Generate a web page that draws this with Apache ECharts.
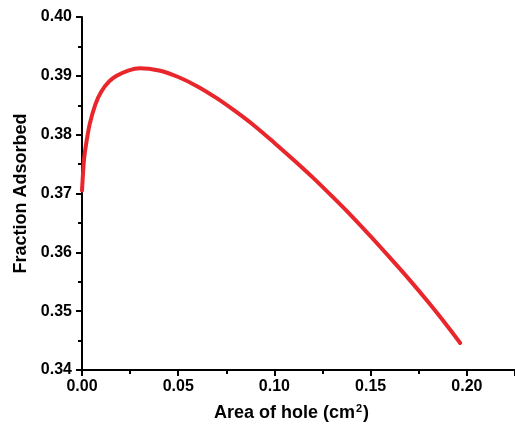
<!DOCTYPE html>
<html><head><meta charset="utf-8">
<script src="https://cdn.jsdelivr.net/npm/echarts@6/dist/echarts.min.js"></script>
<style>html,body{margin:0;padding:0;background:#fff}#c{width:515px;height:427px}</style>
</head><body><div id="c"></div>
<script>
const areaValues = [0, 0.001, 0.002, 0.004, 0.007, 0.010, 0.014, 0.018, 0.024, 0.030, 0.04, 0.05, 0.06, 0.07, 0.08, 0.09, 0.10, 0.11, 0.12, 0.13, 0.14, 0.15, 0.16, 0.17, 0.18, 0.19, 0.1965];
const fractionValues = [0.3705, 0.3756, 0.3781, 0.3818, 0.3852, 0.3873, 0.3890, 0.3900, 0.3909, 0.3913, 0.3909, 0.3898, 0.3882, 0.3862, 0.3839, 0.3814, 0.3786, 0.3757, 0.3727, 0.3695, 0.3662, 0.3627, 0.3591, 0.3554, 0.3515, 0.3474, 0.3446];
const xTicks = {min: 0, max: 0.225, interval: 0.05};
const yTicks = {min: 0.34, max: 0.40, interval: 0.01};

const chart = echarts.init(document.getElementById('c'));
const font = 'Liberation Sans, Arial, sans-serif';
const axisCommon = {
  axisLine: {show: true, lineStyle: {color: '#000', width: 2}},
  axisTick: {show: true, inside: false, length: 6, lineStyle: {color: '#000', width: 2}},
  minorTick: {show: true, splitNumber: 2, length: 4, lineStyle: {color: '#000', width: 2}},
  splitLine: {show: false},
  axisLabel: {color: '#000', fontFamily: font, fontWeight: 'bold', fontSize: 16, formatter: v => v.toFixed(2)}
};
chart.setOption({
  backgroundColor: '#fff',
  animation: false,
  grid: {left: 82, right: 0, top: 17, bottom: 57, containLabel: false},
  xAxis: Object.assign({}, axisCommon, {
    type: 'value', min: xTicks.min, max: xTicks.max, interval: xTicks.interval,
    axisLabel: Object.assign({}, axisCommon.axisLabel, {margin: 9, showMaxLabel: false}),
    name: '{t|Area of hole (cm}{s|2}{t|)}',
    nameLocation: 'middle', nameGap: 33,
    nameTextStyle: {rich: {
      t: {fontFamily: font, fontWeight: 'bold', fontSize: 18, color: '#000', verticalAlign: 'bottom'},
      s: {fontFamily: font, fontWeight: 'bold', fontSize: 11, color: '#000', verticalAlign: 'top', padding: [0, 1, 8, 1]}
    }, padding: [0, 14, 0, 0]}
  }),
  yAxis: Object.assign({}, axisCommon, {
    type: 'value', min: yTicks.min, max: yTicks.max, interval: yTicks.interval,
    axisLabel: Object.assign({}, axisCommon.axisLabel, {margin: 10}),
    name: 'Fraction Adsorbed', nameLocation: 'middle', nameGap: 52,
    nameTextStyle: {fontFamily: font, fontWeight: 'bold', fontSize: 18, color: '#000'}
  }),
  series: [{
    type: 'line', smooth: 0.3, showSymbol: false,
    data: areaValues.map((x, i) => [x, fractionValues[i]]),
    lineStyle: {color: '#e8262b', width: 4, cap: 'round'}
  }]
});
</script></body></html>
